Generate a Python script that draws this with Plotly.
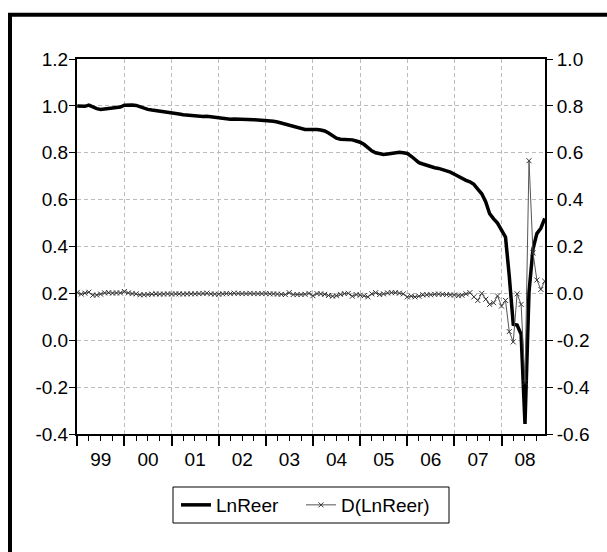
import plotly.graph_objects as go
import pandas as pd

# ---- data (monthly, 1999M01 - 2008M12) ----
start_month = "1999-01-01"
n_months = 120

ln_reer = [
    # 1999
    1.000, 0.997, 0.998, 1.003, 0.995, 0.988, 0.985, 0.987, 0.990, 0.991, 0.993, 0.995,
    # 2000
    1.003, 1.005, 1.004, 1.002, 0.996, 0.990, 0.985, 0.982, 0.980, 0.977, 0.974, 0.972,
    # 2001
    0.969, 0.967, 0.965, 0.962, 0.960, 0.958, 0.956, 0.955, 0.955, 0.956, 0.954, 0.951,
    # 2002
    0.947, 0.945, 0.944, 0.943, 0.944, 0.944, 0.943, 0.942, 0.942, 0.941, 0.940, 0.939,
    # 2003
    0.938, 0.936, 0.934, 0.931, 0.927, 0.922, 0.918, 0.913, 0.908, 0.903, 0.899, 0.899,
    # 2004
    0.900, 0.899, 0.897, 0.893, 0.884, 0.872, 0.862, 0.858, 0.857, 0.857, 0.855, 0.850,
    # 2005
    0.845, 0.835, 0.820, 0.808, 0.800, 0.795, 0.793, 0.795, 0.798, 0.801, 0.802, 0.800,
    # 2006
    0.797, 0.785, 0.770, 0.758, 0.752, 0.746, 0.740, 0.736, 0.733, 0.729, 0.724, 0.717,
    # 2007
    0.708, 0.698, 0.690, 0.682, 0.676, 0.665, 0.645, 0.625, 0.590, 0.540, 0.518, 0.500,
    # 2008
    0.470, 0.440, 0.275, 0.068, 0.065, 0.025, -0.357, 0.205, 0.390, 0.455, 0.478, 0.520,
]

d_ln_reer = [
    # 1999
    0.004, -0.003, 0.001, 0.005, -0.008, -0.007, -0.003, 0.002, 0.003, 0.001, 0.002, 0.002,
    # 2000
    0.008, 0.002, -0.001, -0.002, -0.006, -0.006, -0.005, -0.003, -0.002, -0.003, -0.003, -0.002,
    # 2001
    -0.003, -0.002, -0.002, -0.003, -0.002, -0.002, -0.002, -0.001, 0.000, 0.001, -0.002, -0.003,
    # 2002
    -0.004, -0.002, -0.001, -0.001, 0.001, 0.000, -0.001, -0.001, 0.000, -0.001, -0.001, -0.001,
    # 2003
    -0.001, -0.002, -0.002, -0.003, -0.004, -0.005, 0.003, -0.005, -0.005, -0.005, -0.004, 0.000,
    # 2004
    -0.010, -0.001, -0.002, -0.004, -0.009, -0.012, -0.010, -0.004, -0.001, 0.000, -0.012, -0.005,
    # 2005
    -0.008, -0.010, -0.015, -0.002, 0.003, -0.005, -0.002, 0.002, 0.003, 0.003, 0.001, -0.002,
    # 2006
    -0.015, -0.012, -0.015, -0.012, -0.006, -0.006, -0.006, -0.004, -0.003, -0.004, -0.005, -0.007,
    # 2007
    -0.007, -0.010, -0.008, -0.002, 0.003, -0.015, -0.030, 0.000, -0.025, -0.047, -0.040, -0.011,
    # 2008
    -0.054, -0.030, -0.163, -0.207, -0.002, -0.047, -0.380, 0.566, 0.173, 0.057, 0.017, 0.052,
]

left_ticks = [-0.4, -0.2, 0.0, 0.2, 0.4, 0.6, 0.8, 1.0, 1.2]
left_labels = ["-0.4", "-0.2", "0.0", "0.2", "0.4", "0.6", "0.8", "1.0", "1.2"]
right_ticks = [-0.6, -0.4, -0.2, 0.0, 0.2, 0.4, 0.6, 0.8, 1.0]
right_labels = ["-0.6", "-0.4", "-0.2", "0.0", "0.2", "0.4", "0.6", "0.8", "1.0"]

months = pd.date_range(start_month, periods=n_months, freq="MS")

FONT = "Liberation Sans, Arial, sans-serif"
FS = 19
GRID = "#bcbcbc"

# pixel -> paper helpers (plot area: x 77..545, y 59..434)
def px(x):
    return (x - 77) / 468

def py(y):
    return (434 - y) / 375

fig = go.Figure()
fig.add_trace(go.Scatter(
    x=months, y=ln_reer, name="LnReer", mode="lines",
    line=dict(color="black", width=3.5), yaxis="y", legend="legend",
))
fig.add_trace(go.Scatter(
    x=months, y=d_ln_reer, name="D(LnReer)", mode="lines+markers",
    line=dict(color="#555555", width=1),
    marker=dict(symbol="x-thin", size=5, line=dict(color="#333333", width=1)),
    yaxis="y2", legend="legend2",
))

legend_common = dict(
    orientation="h", yanchor="middle", y=py(505), xanchor="left",
    borderwidth=0, font=dict(size=FS), bgcolor="rgba(0,0,0,0)",
)

fig.update_layout(
    width=607, height=552,
    margin=dict(l=77, r=62, t=59, b=118),
    paper_bgcolor="white", plot_bgcolor="white",
    font=dict(family=FONT, size=FS, color="black"),
    showlegend=True,
    legend=dict(x=px(176), **legend_common),
    legend2=dict(x=px(301), **legend_common),
    xaxis=dict(
        type="date",
        range=["1998-12-30", "2008-12-03"],
        tick0="1999-01-01", dtick="M12",
        tickformat="%y", ticklabelmode="period",
        ticks="outside", ticklen=10, tickwidth=1.5, tickcolor="black",
        showgrid=True, gridcolor=GRID, griddash="4px,3px", gridwidth=1,
        showline=True, linecolor="black", linewidth=2, mirror=True,
        minor=dict(dtick="M3", ticks="outside", ticklen=5, tickwidth=1.2,
                   tickcolor="black", showgrid=False),
        zeroline=False,
        tickfont=dict(size=FS), ticklabelstandoff=-3,
    ),
    yaxis=dict(
        range=[-0.4, 1.2], tickvals=left_ticks, ticktext=left_labels,
        ticks="outside", ticklen=6, tickwidth=1, tickcolor="black",
        showgrid=True, gridcolor=GRID, griddash="4px,3px", gridwidth=1,
        showline=True, linecolor="black", linewidth=2, mirror=True,
        zeroline=False, tickfont=dict(size=FS), ticklabelstandoff=-3,
    ),
    yaxis2=dict(
        range=[-0.6, 1.0], tickvals=right_ticks, ticktext=right_labels,
        overlaying="y", side="right",
        ticks="outside", ticklen=6, tickwidth=1, tickcolor="black",
        showgrid=False, zeroline=False,
        showline=True, linecolor="black", linewidth=2,
        tickfont=dict(size=FS), ticklabelstandoff=0,
    ),
)

# legend box
fig.add_shape(type="rect", xref="paper", yref="paper",
              x0=px(173), x1=px(449), y0=py(487), y1=py(523),
              line=dict(color="black", width=1), fillcolor="rgba(0,0,0,0)")

# outer frame (only left and top edges fall inside the picture)
fig.add_shape(type="line", xref="paper", yref="paper",
              x0=px(10), x1=px(10), y0=py(13), y1=py(560),
              line=dict(color="black", width=4))
fig.add_shape(type="line", xref="paper", yref="paper",
              x0=px(8), x1=px(615), y0=py(14.7), y1=py(14.7),
              line=dict(color="black", width=4))

fig.write_html("out.html")
